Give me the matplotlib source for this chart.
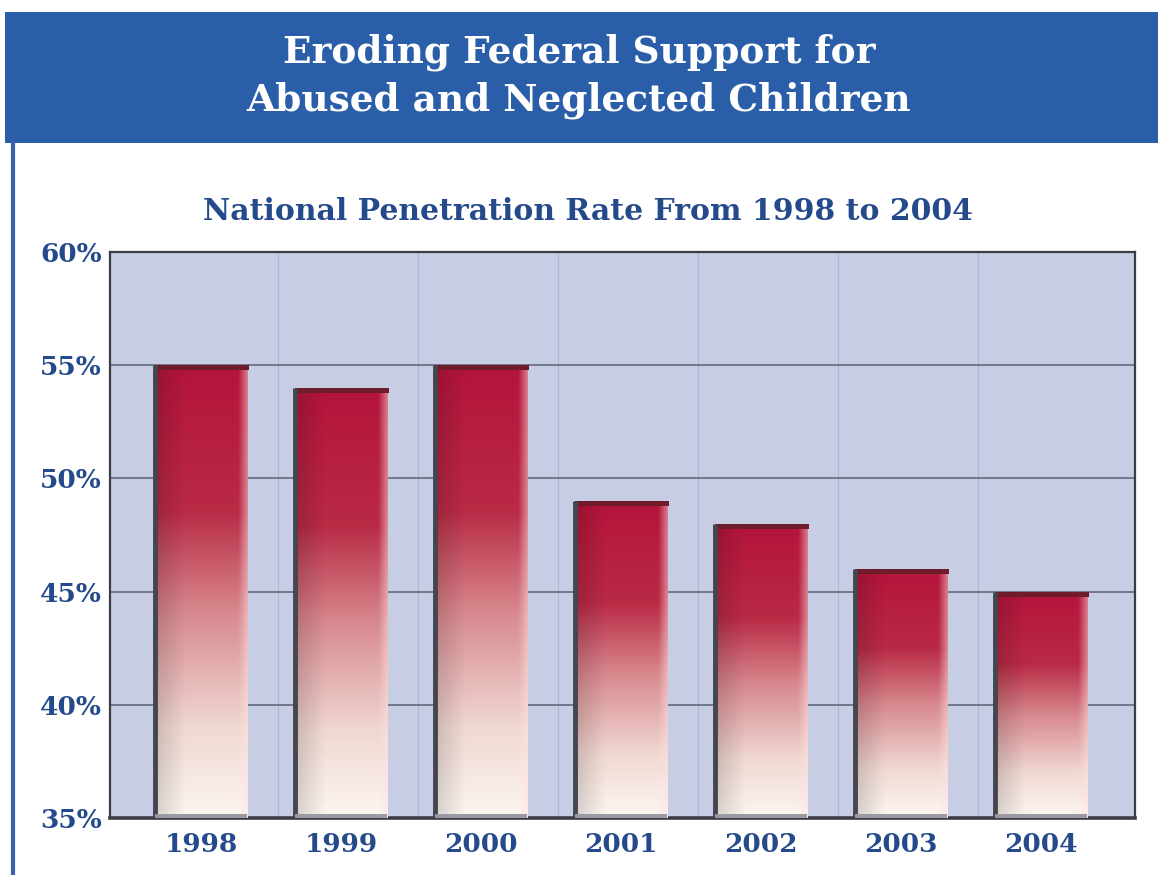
import numpy as np
import matplotlib

matplotlib.use("Agg")
import matplotlib.pyplot as plt
from matplotlib.patches import Rectangle
from matplotlib.lines import Line2D
from matplotlib.colors import LinearSegmentedColormap


years = ["1998", "1999", "2000", "2001", "2002", "2003", "2004"]
rates = [55, 54, 55, 49, 48, 46, 45]
y_ticks = [35, 40, 45, 50, 55, 60]
y_labels = ["35%", "40%", "45%", "50%", "55%", "60%"]

title = "Eroding Federal Support for\nAbused and Neglected Children"
subtitle = "National Penetration Rate From 1998 to 2004"

NAVY = "#254a8c"
BANNER = "#2a5ea8"
PLOT_BG = "#c6cde4"
SERIF = ["DejaVu Serif"]

# vertical fade: pale at the floor, crimson near the top
fade = LinearSegmentedColormap.from_list(
    "fade",
    [(0.0, "#fdf6f1"), (0.2, "#f0d8d2"), (0.45, "#d88a8f"), (0.68, "#b92a45"), (1.0, "#b4143a")],
)


def bar_image(width_px=80, height_px=600):
    v = np.linspace(0, 1, height_px)[:, None]
    rgb = fade(np.repeat(v, width_px, axis=1))[..., :3]
    # a little shading across the bar: darker left, lighter right
    h = np.linspace(0, 1, width_px)[None, :]
    shade = 0.85 + 0.15 * np.clip(h * 3, 0, 1)
    rgb = rgb * shade[..., None]
    light = np.clip((h - 0.9) / 0.1, 0, 1)[..., None]
    rgb = rgb * (1 - 0.5 * light) + 0.5 * light * np.array([1.0, 0.88, 0.88])
    return np.clip(rgb, 0, 1)


fig = plt.figure(figsize=(11.58, 8.75), dpi=100)
fig.patch.set_facecolor("white")

# banner and left frame line
fig.patches.append(Rectangle((5 / 1158, 1 - 143 / 875), 1, 131 / 875,
                             transform=fig.transFigure, facecolor=BANNER, edgecolor="none", zorder=0))
fig.lines.append(Line2D([13 / 1158, 13 / 1158], [0, 1 - 143 / 875], transform=fig.transFigure,
                        color="#3a62aa", linewidth=3))
fig.text(0.5, 1 - 76 / 875, title, ha="center", va="center", color="white",
         fontsize=27, fontweight="bold", family=SERIF, linespacing=1.35)
fig.text(0.508, 1 - 212 / 875, subtitle, ha="center", va="center", color=NAVY,
         fontsize=21.5, fontweight="bold", family=SERIF)

ax = fig.add_axes([110 / 1158, 1 - 818 / 875, 1025 / 1158, 566 / 875])
ax.set_facecolor(PLOT_BG)

x = np.arange(len(years))
ax.set_yticks(y_ticks)
ax.set_yticklabels(y_labels)
ax.set_xticks(x)
ax.set_xticklabels(years)
ax.grid(axis="y", color="#5b6070", linewidth=1.1, zorder=1)
for xv in x[:-1] + 0.55:
    ax.axvline(xv, color="#aeb6cf", linewidth=0.8, zorder=1)

for lab in ax.get_xticklabels() + ax.get_yticklabels():
    lab.set_fontfamily(SERIF)
    lab.set_fontweight("bold")
    lab.set_color(NAVY)
    lab.set_fontsize(19)
ax.tick_params(axis="both", length=0)
ax.tick_params(axis="x", pad=10)
ax.tick_params(axis="y", pad=6)

for side in ["left", "top", "right"]:
    ax.spines[side].set_color("#3c3c44")
    ax.spines[side].set_linewidth(1.6)
ax.spines["bottom"].set_color("#3c3c44")
ax.spines["bottom"].set_linewidth(2.6)

width = 0.66
img = bar_image()
bars = ax.bar(x, [r - 35 for r in rates], bottom=35, width=width, color="none", edgecolor="none", zorder=3)
for bar, r in zip(bars, rates):
    x0 = bar.get_x()
    x1 = x0 + bar.get_width()
    im = ax.imshow(img, extent=[x0, x1, 35, r], origin="lower", aspect="auto", zorder=3,
                   interpolation="bilinear")
    im.set_clip_path(bar)
    # top cap
    ax.add_patch(Rectangle((x0, r - 0.22), x1 - x0 + 0.01, 0.22, facecolor="#6e1c2c",
                           edgecolor="none", zorder=4))
    # dark left side
    ax.plot([x0, x0], [35, r], color="#45454f", linewidth=3.5, zorder=4, solid_capstyle="butt")
    # floor shadow
    ax.add_patch(Rectangle((x0, 35), x1 - x0, 0.18, facecolor="#9a9aa2", edgecolor="none", zorder=4))

ax.set_xlim(-0.65, 6.67)
ax.set_ylim(35, 60)

fig.savefig("out.png", dpi=100)
